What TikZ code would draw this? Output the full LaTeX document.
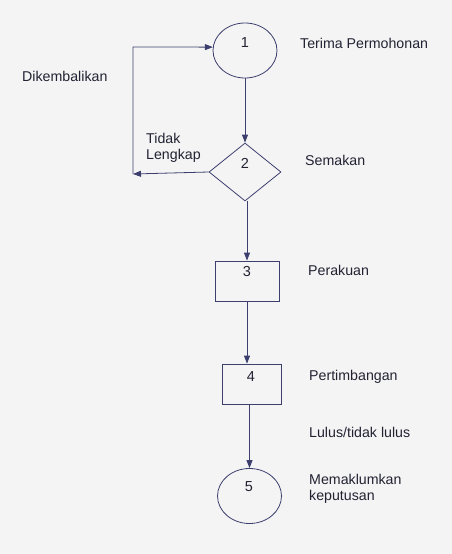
\documentclass[tikz,border=0pt]{standalone}
\usepackage{fontspec}
\setmainfont{Liberation Sans}
\usetikzlibrary{shapes.geometric,arrows.meta}
\definecolor{bg}{HTML}{F4F4F4}
\definecolor{ln}{HTML}{3C3F6E}
\definecolor{tx}{HTML}{222233}
\begin{document}
\begin{tikzpicture}[x=1pt,y=-1pt,
  shp/.style={draw=ln,line width=0.8pt,inner sep=0pt},
  oval/.style={shp,ellipse,minimum width=64pt,minimum height=55pt},
  dia/.style={shp,diamond,minimum width=72pt,minimum height=58pt},
  box/.style={shp,rectangle},
  num/.style={text=tx,font=\fontsize{14.5}{16}\selectfont,inner sep=0pt},
  lab/.style={text=tx,font=\fontsize{14.2}{16}\selectfont,inner sep=0pt,anchor=west,align=left},
  arr/.style={draw=ln,line width=0.8pt,-{Triangle[length=8pt,width=6pt]}},
  ln/.style={draw=ln,line width=0.8pt}]
\fill[bg] (0,0) rectangle (452,554);
\useasboundingbox (0,0) rectangle (452,554);
% shapes
\node[oval] (e1) at (245,50.5) {};
\node[dia] (d2) at (245,172) {};
\node[box,minimum width=64pt,minimum height=40pt] (b3) at (247,281) {};
\node[box,minimum width=59pt,minimum height=40pt] (b4) at (251.5,384) {};
\node[oval] (e5) at (249.5,496) {};
% numbers
\node[num] (n1) at (245,43) {1};
\node[num] (n2) at (245,163) {2};
\node[num] (n3) at (247,272) {3};
\node[num] (n4) at (251,377) {4};
\node[num] (n5) at (249,487) {5};
% labels
\node[lab] (t1) at (300,43) {Terima Permohonan};
\node[lab] (t0) at (22,76) {Dikembalikan};
\node[lab,anchor=north west] (tl) at (146,133) {Tidak\\Lengkap};
\node[lab] (t2) at (305,160) {Semakan};
\node[lab] (t3) at (308,270) {Perakuan};
\node[lab] (t4) at (309,377) {Pertimbangan};
\node[lab] (tll) at (309,432) {Lulus/tidak lulus};
\node[lab,anchor=north west] (t5) at (309,474) {Memaklumkan\\keputusan};
% connectors
\coordinate (c1) at (133,47);
\coordinate (c2) at (133,174);
\draw[arr] (e1.south) -- (d2.north);
\draw[arr] (d2.south -| b3.north) -- (b3.north);
\draw[arr] (b3.south) -- (b3.south |- b4.north);
\draw[arr] (b4.south -| e5.north) -- (e5.north);
\draw[arr] (d2.west) -- (c2);
\draw[arr] (c2) -- (c1) -- (e1.174);
\end{tikzpicture}
\end{document}
